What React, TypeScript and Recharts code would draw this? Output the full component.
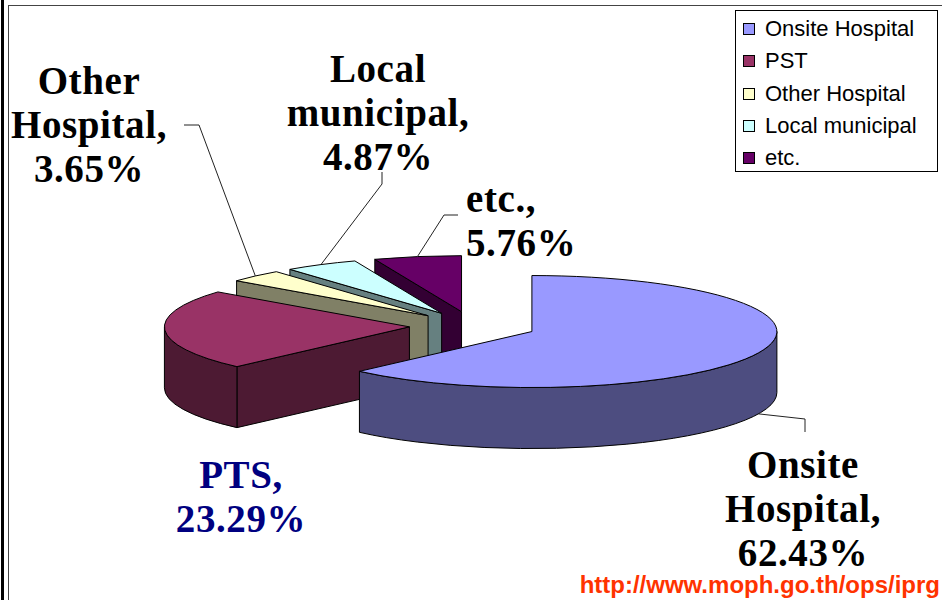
import React from "react";
import { PieChart, Pie, Cell, Legend } from "recharts";

/* ================= DATA ================= */
const CATEGORIES = ["Onsite Hospital", "PST", "Other Hospital", "Local municipal", "etc."];
const SHARES = [62.43, 23.29, 3.65, 4.87, 5.76];
const LABEL_LINES = [["Onsite", "Hospital,"], ["PTS,"], ["Other", "Hospital,"], ["Local", "municipal,"], ["etc.,"]];
const SOURCE_URL = "http://www.moph.go.th/ops/iprg";

/* ================= STYLE ================= */
const TOP_COLORS = ["#9999FF", "#993366", "#FFFFCC", "#CCFFFF", "#660066"];
const SIDE_COLORS = ["#4D4D80", "#4D1A33", "#808066", "#668080", "#330033"];

const TILT = 0.2286; // vertical squash of the pie
const DEPTH = 0.249; // thickness, relative to radius
const EXPLODE = 0.26; // slice offset, relative to radius
const RAD = Math.PI / 180;

const SERIF = "'Liberation Serif', 'Times New Roman', serif";
const SANS = "'Liberation Sans', Arial, sans-serif";

// label placement: anchor x, first baseline, colour, alignment, leader start (text side)
const LABEL_LAYOUT = [
  { x: 803, y: 478, color: "#000", anchor: "middle", leader: [[805, 432], [805, 419]] },
  { x: 241, y: 488, color: "#000080", anchor: "middle", leader: null },
  { x: 89, y: 94, color: "#000", anchor: "middle", leader: [[184, 125], [199, 125]] },
  { x: 378, y: 82, color: "#000", anchor: "middle", leader: [[382, 172], [382, 184]] },
  { x: 466, y: 212, color: "#000", anchor: "start", leader: [[458, 215], [444, 215]] },
];

// drawn back to front so the big front slice ends up on top
const data = CATEGORIES.map((name, i) => ({ name, value: SHARES[i], idx: i })).reverse();

/* ================= 3D HELPERS ================= */
function geo(p: any) {
  const rx = p.outerRadius;
  const ry = rx * TILT;
  const d = rx * DEPTH;
  const m = p.midAngle * RAD;
  const ax = p.cx + EXPLODE * rx * Math.cos(m);
  const ay = p.cy - EXPLODE * ry * Math.sin(m);
  const pt = (a: number): [number, number] => [ax + rx * Math.cos(a * RAD), ay - ry * Math.sin(a * RAD)];
  return { rx, ry, d, ax, ay, pt };
}

function getIdx(p: any): number {
  return p.payload?.idx ?? p.idx ?? 0;
}

function Slice3D(props: any) {
  const { startAngle, endAngle, fill } = props;
  const idx = getIdx(props);
  const lo = Math.min(startAngle, endAngle);
  const hi = Math.max(startAngle, endAngle);
  const g = geo(props);
  const side = SIDE_COLORS[idx];
  const [x1, y1] = g.pt(lo);
  const [x2, y2] = g.pt(hi);
  const large = hi - lo > 180 ? 1 : 0;
  const top = `M${g.ax},${g.ay} L${x1},${y1} A${g.rx},${g.ry} 0 ${large} 0 ${x2},${y2} Z`;

  const faces: React.ReactNode[] = [];
  const wall = (a: number, key: string) => {
    const [px, py] = g.pt(a);
    faces.push(
      <path
        key={key}
        d={`M${g.ax},${g.ay} L${px},${py} L${px},${py + g.d} L${g.ax},${g.ay + g.d} Z`}
        fill={side}
        stroke="#000"
        strokeWidth={1}
      />
    );
  };
  if (Math.cos(lo * RAD) > 0.001) wall(lo, "wlo");
  if (Math.cos(hi * RAD) < -0.001) wall(hi, "whi");

  // outer rim, only the part facing the viewer
  for (let k = -1; k <= 1; k++) {
    const a = Math.max(lo, 180 + 360 * k);
    const b = Math.min(hi, 360 + 360 * k);
    if (b > a) {
      const [ax1, ay1] = g.pt(a);
      const [bx1, by1] = g.pt(b);
      faces.push(
        <path
          key={`rim${k}`}
          d={`M${ax1},${ay1} A${g.rx},${g.ry} 0 0 0 ${bx1},${by1} L${bx1},${by1 + g.d} A${g.rx},${g.ry} 0 0 1 ${ax1},${ay1 + g.d} Z`}
          fill={side}
          stroke="#000"
          strokeWidth={1}
        />
      );
    }
  }

  return (
    <g>
      {faces}
      <path d={top} fill={fill} stroke="#000" strokeWidth={1} />
    </g>
  );
}

function renderLabel(props: any) {
  const idx = getIdx(props);
  const L = LABEL_LAYOUT[idx];
  const g = geo(props);
  const [ex, ey0] = g.pt(props.midAngle);
  const ey = Math.sin(props.midAngle * RAD) < 0 ? ey0 + g.d : ey0;
  const lines = [...LABEL_LINES[idx], `${Number(props.value).toFixed(2)}%`];
  return (
    <g key={`lbl-${idx}`}>
      {L.leader && (
        <polyline
          points={[...L.leader, [ex, ey]].map((p) => p.join(",")).join(" ")}
          fill="none"
          stroke="#222"
          strokeWidth={1}
        />
      )}
      <text
        x={L.x}
        y={L.y}
        textAnchor={L.anchor as any}
        fontFamily={SERIF}
        fontWeight="bold"
        fontSize={39}
        letterSpacing={0.6}
        fill={L.color}
      >
        {lines.map((t, i) => (
          <tspan key={i} x={L.x} y={L.y + i * 44}>
            {t}
          </tspan>
        ))}
      </text>
    </g>
  );
}

function renderLegend() {
  return (
    <div
      style={{
        width: 201,
        height: 160,
        border: "1px solid #000",
        background: "#fff",
        position: "relative",
        fontFamily: SANS,
        fontSize: 22,
        color: "#000",
      }}
    >
      {CATEGORIES.map((name, i) => (
        <div
          key={name}
          style={{
            position: "absolute",
            left: 7,
            top: 18 + i * 32.3 - 13,
            height: 26,
            display: "flex",
            alignItems: "center",
            whiteSpace: "nowrap",
          }}
        >
          <span
            style={{
              display: "inline-block",
              width: 10,
              height: 10,
              background: TOP_COLORS[i],
              border: "1px solid #000",
              marginRight: 10,
            }}
          />
          {name}
        </div>
      ))}
    </div>
  );
}

/* ================= COMPONENT ================= */
export default function App() {
  return (
    <div style={{ position: "absolute", left: 0, top: 0, width: 942, height: 600, background: "#fff", overflow: "hidden" }}>
      {/* frame lines */}
      <div style={{ position: "absolute", left: 1, top: 0, width: 3, height: 600, background: "#000" }} />
      <div style={{ position: "absolute", left: 8, top: 5, width: 1, height: 595, background: "#444" }} />
      <div style={{ position: "absolute", left: 8, top: 5, width: 934, height: 1, background: "#444" }} />

      <PieChart width={942} height={600} margin={{ top: 0, right: 0, bottom: 0, left: 0 }}>
        <Pie
          data={data}
          dataKey="value"
          nameKey="name"
          cx={473}
          cy={326}
          innerRadius={0}
          outerRadius={245}
          startAngle={90}
          endAngle={450}
          isAnimationActive={false}
          shape={Slice3D}
          activeShape={Slice3D}
          inactiveShape={Slice3D}
          label={renderLabel}
          labelLine={false}
        >
          {data.map((d) => (
            <Cell key={d.name} fill={TOP_COLORS[d.idx]} />
          ))}
        </Pie>
        <Legend
          content={renderLegend}
          wrapperStyle={{ position: "absolute", left: 735, top: 10, width: 203, height: 162 }}
        />
      </PieChart>

      <div
        style={{
          position: "absolute",
          right: 2,
          top: 570,
          fontFamily: SANS,
          fontWeight: "bold",
          fontSize: 24,
          color: "#FF3300",
          whiteSpace: "nowrap",
          lineHeight: "30px",
        }}
      >
        {SOURCE_URL}
      </div>
    </div>
  );
}
